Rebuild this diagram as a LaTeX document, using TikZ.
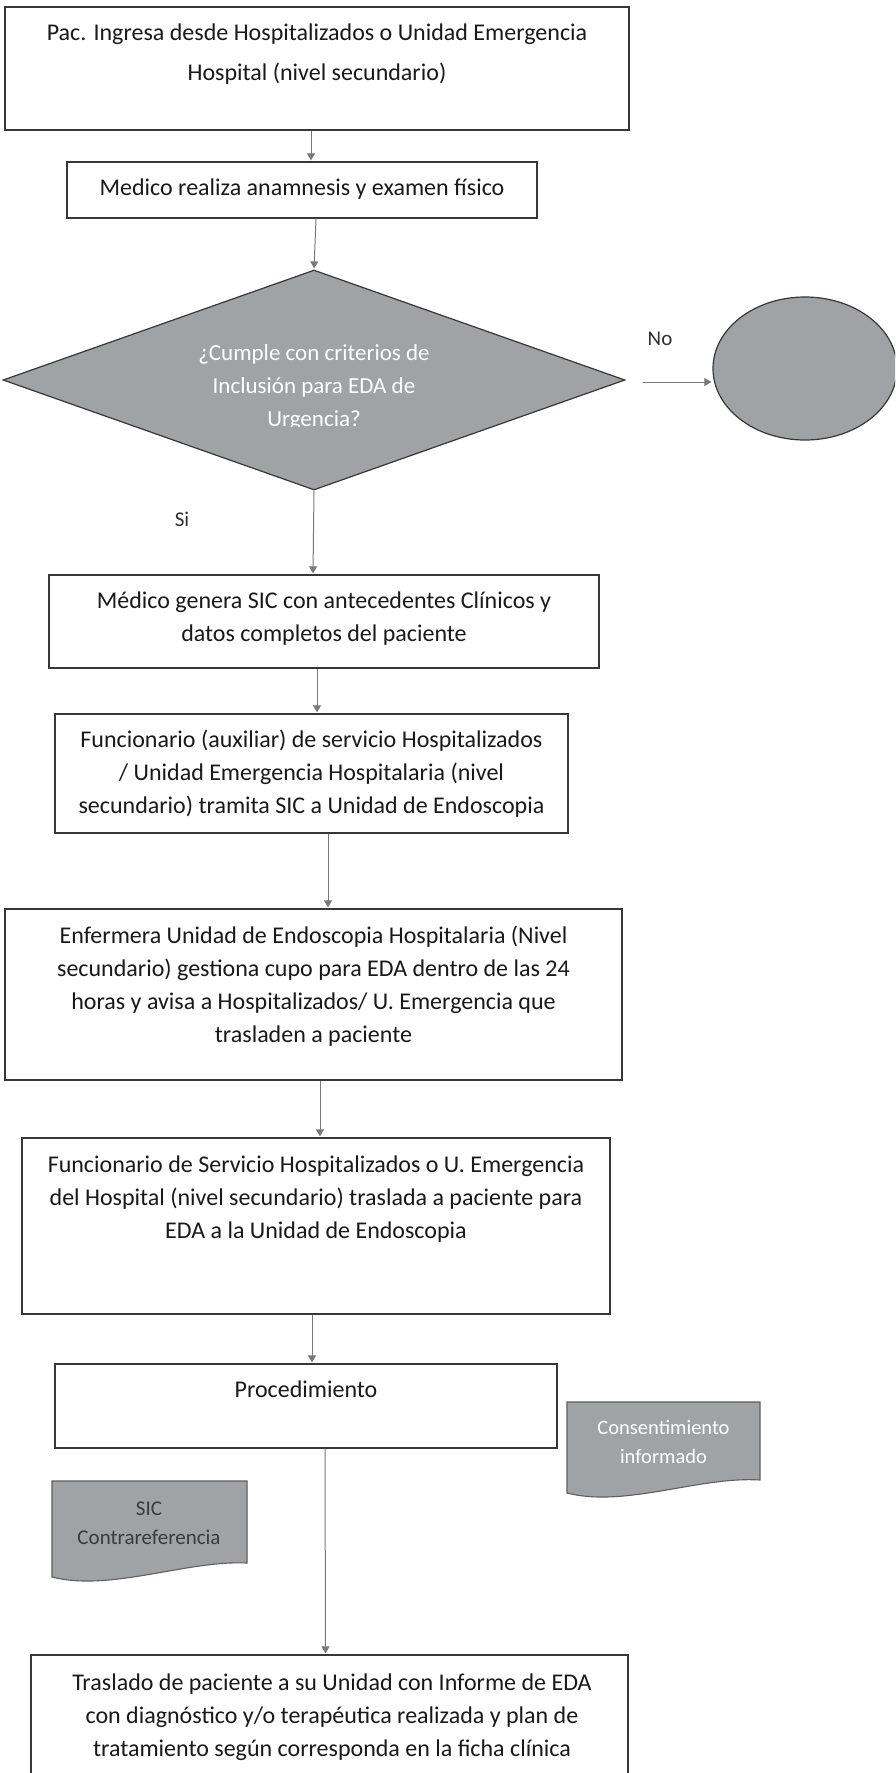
\documentclass[tikz,border=0pt]{standalone}
\usepackage{fontspec}
\setmainfont{Carlito}
\usetikzlibrary{shapes.geometric,arrows.meta,calc}
\definecolor{boxline}{RGB}{55,55,55}
\definecolor{arrgray}{RGB}{120,120,120}
\definecolor{fillgray}{RGB}{160,162,166}
\definecolor{txtc}{RGB}{25,25,25}
\begin{document}
\begin{tikzpicture}[x=1pt,y=-1pt,
  box/.style={draw=boxline,line width=1.3pt,fill=white,inner sep=0pt,rectangle},
  txt/.style={text=txtc,font=\fontsize{24}{33}\selectfont,align=center,inner sep=0pt,anchor=base},
  wtxt/.style={text=white,font=\fontsize{23}{33}\selectfont,align=center,inner sep=0pt,anchor=base},
  arr/.style={draw=arrgray,line width=1pt,-{Triangle[width=8pt,length=7pt]},shorten >=1pt},
  docshape/.style={draw=boxline!80,line width=1.1pt,fill=fillgray},
  graybox/.style={draw=boxline,line width=1.2pt,fill=fillgray,inner sep=0pt}]
\clip (0,0) rectangle (895,1773);
\fill[white] (0,0) rectangle (895,1773);

% boxes (text nodes are anchored at the baseline of their last line)
\node[box,minimum width=624pt,minimum height=123pt] (b1) at (317,68.5) {};
\node[txt,font=\fontsize{24}{40}\selectfont] (t1) at (317,80) {Pac. Ingresa desde Hospitalizados o Unidad Emergencia\\Hospital (nivel secundario)};

\node[box,minimum width=470pt,minimum height=56pt] (b2) at (302,190) {};
\node[txt] (t2) at (302,195) {Medico realiza anamnesis y examen físico};

\node[diamond,graybox,minimum width=622pt,minimum height=220pt] (d) at (314,380) {};
\begin{scope}
\clip (0,330) rectangle (640,426);
\node[wtxt] (td) at (314,426) {¿Cumple con criterios de\\Inclusión para EDA de\\Urgencia?};
\end{scope}

\node[ellipse,graybox,minimum width=184pt,minimum height=143pt] (e) at (805,368.5) {};
\node[txt,font=\fontsize{21}{25}\selectfont,text=txtc!90] (no) at (660,345) {No};
\node[txt,font=\fontsize{21}{25}\selectfont,text=txtc!90] (si) at (182,526) {Si};

\node[box,minimum width=550pt,minimum height=93pt] (b3) at (324,621.5) {};
\node[txt] (t3) at (324,641) {Médico genera SIC con antecedentes Clínicos y\\datos completos del paciente};

\node[box,minimum width=513pt,minimum height=119pt] (b4) at (311.5,773.5) {};
\node[txt] (t4) at (311.5,813) {Funcionario (auxiliar) de servicio Hospitalizados\\/ Unidad Emergencia Hospitalaria (nivel\\secundario) tramita SIC a Unidad de Endoscopia};

\node[box,minimum width=617pt,minimum height=171pt] (b5) at (313.5,994.5) {};
\node[txt] (t5) at (313.5,1042) {Enfermera Unidad de Endoscopia Hospitalaria (Nivel\\secundario) gestiona cupo para EDA dentro de las 24\\horas y avisa a Hospitalizados/ U. Emergencia que\\trasladen a paciente};

\node[box,minimum width=588pt,minimum height=176pt] (b6) at (316,1226) {};
\node[txt] (t6) at (316,1238) {Funcionario de Servicio Hospitalizados o U. Emergencia\\del Hospital (nivel secundario) traslada a paciente para\\EDA a la Unidad de Endoscopia};

\node[box,minimum width=502pt,minimum height=84pt] (b7) at (306,1406) {};
\node[txt] (t7) at (306,1397) {Procedimiento};

\node[box,minimum width=597pt,minimum height=160pt] (b8) at (329.5,1735) {};
\node[txt] (t8) at (332,1756) {Traslado de paciente a su Unidad con Informe de EDA\\con diagnóstico y/o terapéutica realizada y plan de\\tratamiento según corresponda en la ficha clínica};

% documents
\coordinate (c1) at (567,1402);
\coordinate (c2) at (760,1402);
\coordinate (c3) at (760,1480);
\coordinate (c4) at (567,1493);
\draw[docshape] (c1) -- (c2) -- (c3) .. controls (700,1476) and (625,1508) .. (c4) -- cycle;
\node[wtxt,font=\fontsize{20.5}{29}\selectfont] (tc) at (663.5,1463) {Consentimiento\\informado};

\coordinate (s1) at (52,1481);
\coordinate (s2) at (247,1481);
\coordinate (s3) at (247,1563);
\coordinate (s4) at (52,1577);
\draw[docshape] (s1) -- (s2) -- (s3) .. controls (187,1560) and (110,1592) .. (s4) -- cycle;
\node[txt,font=\fontsize{21}{29}\selectfont,text=txtc!85] (ts) at (149,1544) {SIC\\Contrareferencia};

% connectors
\draw[arr] ([xshift=-6pt]b1.south) -- ([xshift=9pt]b2.north);
\draw[arr] ([xshift=14pt]b2.south) -- (d.north);
\draw[arr] (d.south) -- ([xshift=-11pt]b3.north);
\draw[arr] ([xshift=-7pt]b3.south) -- ([xshift=5.5pt]b4.north);
\draw[arr] ([xshift=16.5pt]b4.south) -- ([xshift=14.5pt]b5.north);
\draw[arr] ([xshift=6.5pt]b5.south) -- ([xshift=4pt]b6.north);
\draw[arr] ([xshift=-4pt]b6.south) -- ([xshift=6pt]b7.north);
\draw[arr] ([xshift=19pt]b7.south) -- ([xshift=-4pt]b8.north);
\draw[arr] ($(d.east)+(17,2)$) -- (e.west |- 0,382);
\end{tikzpicture}
\end{document}
